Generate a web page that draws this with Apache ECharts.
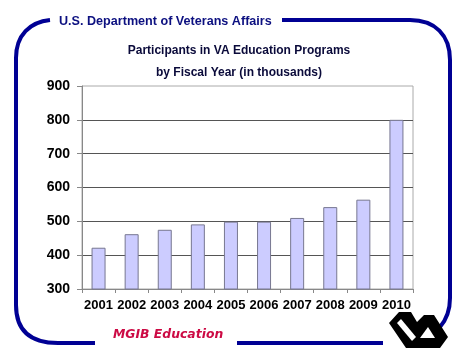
<!DOCTYPE html>
<html><head><meta charset="utf-8">
<script src="https://cdn.jsdelivr.net/npm/echarts@6/dist/echarts.min.js"></script>
<style>html,body{margin:0;padding:0;background:#fff}#c{width:474px;height:355px}</style>
</head><body><div id="c"></div>
<script>
const categories = ['2001','2002','2003','2004','2005','2006','2007','2008','2009','2010'];
const participants = [422, 462, 475, 491, 499, 499, 510, 542, 564, 800];
const yTicks = { min: 300, max: 900, interval: 100 };
const headerText = 'U.S. Department of Veterans Affairs';
const titleLines = ['Participants in VA Education Programs', 'by Fiscal Year (in thousands)'];
const footerText = 'MGIB Education';

const chart = echarts.init(document.getElementById('c'), null, {renderer: 'canvas'});
const navy = '#000094';
const frameStyle = { fill: null, stroke: navy, lineWidth: 4 };
function bez(x1, y1, cpx1, cpy1, cpx2, cpy2, x2, y2) {
  return { type: 'bezierCurve', shape: { x1, y1, cpx1, cpy1, cpx2, cpy2, x2, y2 }, style: frameStyle };
}
function seg(x1, y1, x2, y2) {
  return { type: 'line', shape: { x1, y1, x2, y2 }, style: frameStyle };
}
chart.setOption({
  animation: false,
  backgroundColor: '#fff',
  title: [
    { text: titleLines[0], left: 234, top: 40, textAlign: 'center',
      textStyle: { fontFamily: 'Liberation Sans', fontWeight: 'bold', fontSize: 12, color: '#0a0a3a' } },
    { text: titleLines[1], left: 234, top: 62, textAlign: 'center',
      textStyle: { fontFamily: 'Liberation Sans', fontWeight: 'bold', fontSize: 12, color: '#0a0a3a' } }
  ],
  grid: { left: 82, right: 61, top: 86, bottom: 66, show: true, borderColor: '#aaa', borderWidth: 1 },
  xAxis: {
    type: 'category', data: categories,
    axisLine: { lineStyle: { color: '#888' } },
    axisTick: { show: true, interval: 0, length: 4, lineStyle: { color: '#888' } },
    axisLabel: { interval: 0, margin: 10, fontFamily: 'Liberation Sans', fontWeight: 'bold', fontSize: 13, color: '#000' }
  },
  yAxis: {
    type: 'value', min: yTicks.min, max: yTicks.max, interval: yTicks.interval,
    axisLine: { show: true, lineStyle: { color: '#888' } },
    axisTick: { show: true, length: 5, lineStyle: { color: '#888' } },
    axisLabel: { margin: 12, fontFamily: 'Liberation Sans', fontWeight: 'bold', fontSize: 14, color: '#000' },
    splitLine: { show: true, showMinLine: false, showMaxLine: false, lineStyle: { color: '#555', width: 1 } }
  },
  series: [{
    type: 'bar', data: participants, barWidth: 14,
    itemStyle: { color: '#ccccff', borderColor: '#777790', borderWidth: 1 }
  }],
  graphic: [
    bez(50, 20, 30, 22, 16, 35, 16, 58),
    seg(16, 58, 16, 305),
    bez(16, 305, 16, 330, 30, 343, 58, 343),
    seg(58, 343, 95, 343),
    seg(282, 20, 410, 20),
    bez(410, 20, 435, 20, 450, 35, 450, 60),
    seg(450, 60, 450, 298),
    bez(450, 298, 450, 312, 446, 320, 440, 327),
    seg(237, 343, 383, 343),
    { type: 'text', left: 59, top: 15,
      style: { text: headerText, fontFamily: 'Liberation Sans', fontWeight: 'bold', fontSize: 12.6, fill: '#0c1080' } },
    { type: 'text', left: 113, top: 329,
      style: { text: footerText, fontFamily: 'DejaVu Sans', fontStyle: 'italic', fontWeight: 'bold', fontSize: 12.4, fill: '#cc0a44' } },
    // VA logo (approximation)
    { type: 'polygon', shape: { points: [[389,323],[399,312],[411,312],[417,322],[424,315],[434,315],[448,337],[440,348],[406,348]] },
      style: { fill: '#000' } },
    { type: 'polygon', shape: { points: [[397,323],[401,319],[416,337],[412,341]] },
      style: { fill: '#fff' } },
    { type: 'polygon', shape: { points: [[420,338],[428,327],[435,338]] },
      style: { fill: '#fff' } }
  ]
});
</script></body></html>
